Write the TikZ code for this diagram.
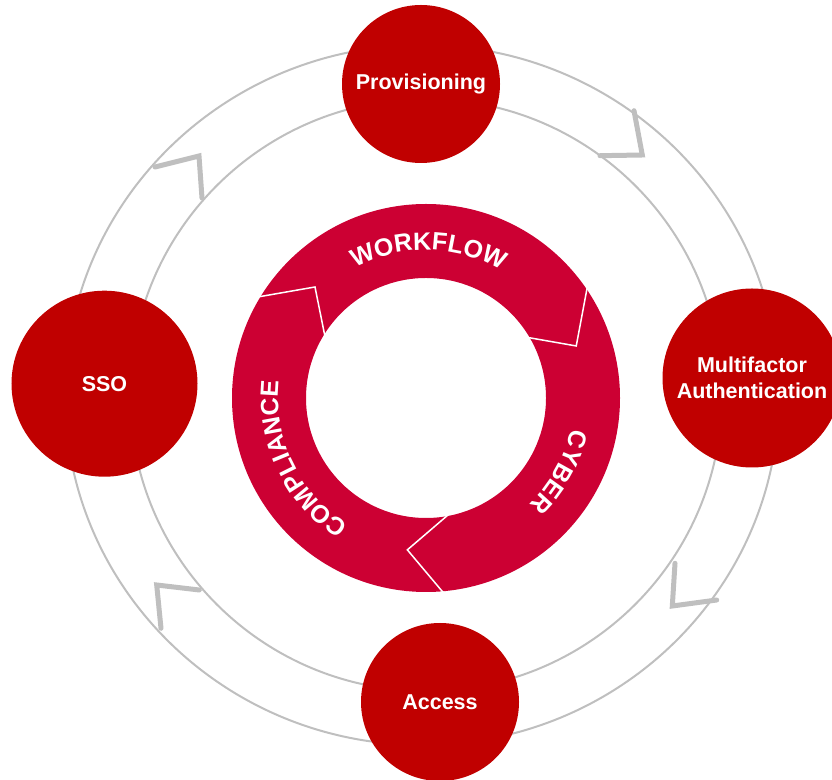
\documentclass[tikz,border=0pt]{standalone}
\usepackage{fontspec}
\setmainfont{Liberation Sans}
\usetikzlibrary{decorations.text}
\definecolor{ringred}{HTML}{CC0033}
\definecolor{stagered}{HTML}{C00000}
\definecolor{loopgray}{HTML}{BFBFBF}
\newcommand{\bandfont}{\fontsize{25bp}{25bp}\selectfont\bfseries}

\begin{document}
\begin{tikzpicture}
  [x=1bp,y=1bp,
   stage/.style={circle,fill=stagered,text=white,inner sep=0pt,align=center,
     font=\fontsize{21.5bp}{25.7bp}\selectfont\bfseries},
   tick/.style={loopgray,line width=5bp,line cap=round},
   cut/.style={white,line width=1.5bp},
   band/.style={decorate,decoration={text along path,text align=center,
     text color=white,text={|\bandfont|#1}}}]
  \useasboundingbox (0,0) rectangle (832,780);
  \draw[loopgray,line width=2bp] (422,385) ellipse [x radius=357,y radius=350];
  \draw[loopgray,line width=2bp] (426,385) circle [radius=296];
  \draw[tick] (155,613) -- (199,624) -- (202,582);
  \draw[tick] (634,669.3) -- (642.3,625) -- (600,624.3);
  \draw[tick] (675,216.7) -- (672.3,174) -- (716.7,180);
  \draw[tick] (199.3,190) -- (156.7,195) -- (161,151.7);

  \fill[ringred,even odd rule] (426,382) circle [radius=194] circle [radius=120];
  \begin{scope}[shift={(426,382)}]
    \draw[cut] (148.7:195) -- (135:157) -- (148.3:119);
    \draw[cut] (34.3:195) -- (19.1:159) -- (30.5:119);
    \draw[cut] (-85:195) -- (-97:153) -- (-79.3:119);
    \path[band=WORKFLOW] (129:148) arc [start angle=129,end angle=49,radius=148];
    \path[band=CYBER] (11:148) arc [start angle=11,end angle=-69,radius=148];
    \path[band=COMPLIANCE] (246:148) arc [start angle=246,end angle=166,radius=148];
  \end{scope}

  \node[stage,minimum size=158bp] (prov) at (421,696) {Provisioning};
  \node[stage,minimum size=186bp] (sso) at (104.5,396.3) {SSO};
  \node[stage,minimum size=179bp] (mfa) at (752,402) {Multifactor\\Authentication};
  \node[stage,minimum size=158bp] (acc) at (440,78) {Access};
\end{tikzpicture}
\end{document}
